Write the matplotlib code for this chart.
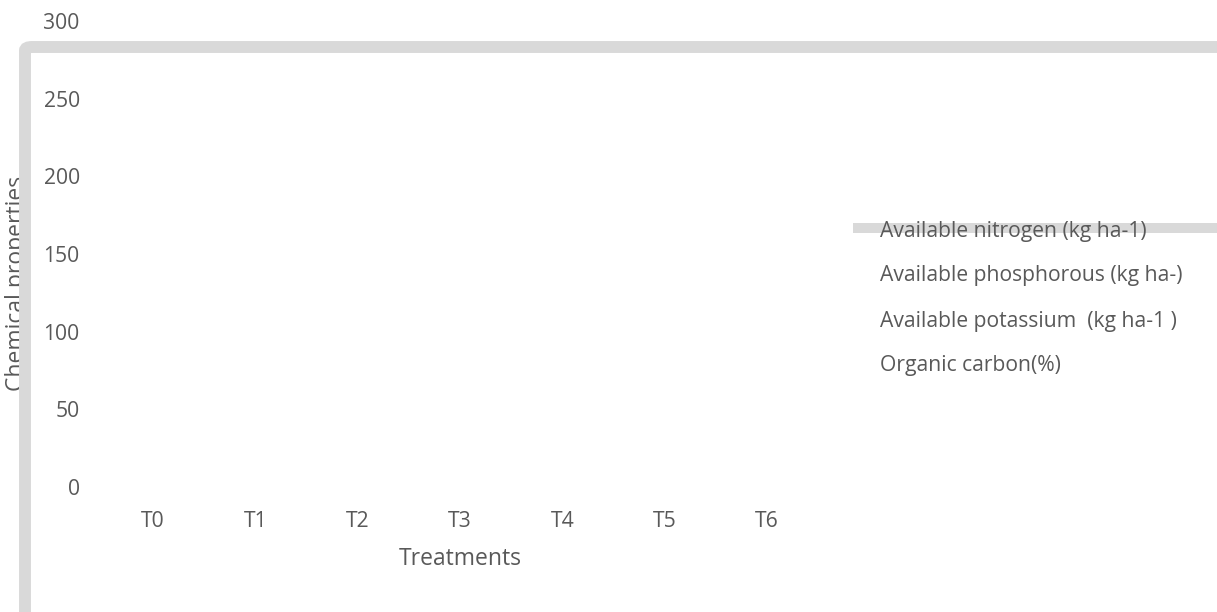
import numpy as np
import matplotlib
matplotlib.use("Agg")
import matplotlib.pyplot as plt
from matplotlib.patches import FancyBboxPatch
from matplotlib.lines import Line2D

# ── Data ──────────────────────────────────────────────────────────
treatments = ["T0", "T1", "T2", "T3", "T4", "T5", "T6"]
series_names = [
    "Available nitrogen (kg ha-1)",
    "Available phosphorous (kg ha-)",
    "Available potassium  (kg ha-1 )",
    "Organic carbon(%)",
]
# no bars are visible in the source chart
nitrogen = [None, None, None, None, None, None, None]
phosphorous = [None, None, None, None, None, None, None]
potassium = [None, None, None, None, None, None, None]
organic_carbon = [None, None, None, None, None, None, None]
y_ticks = [0, 50, 100, 150, 200, 250, 300]

TXT = "#595959"
GRAY = "#D9D9D9"
FONT = "Open Sans"
FS = 15.2
FS_TITLE = 16.5

W, H = 1217, 612
fig = plt.figure(figsize=(W / 100, H / 100), dpi=100)
fig.patch.set_facecolor("white")


def fx(px):
    return px / W


def fy(py):
    return 1 - py / H


# plot area: categories 102..818 px, y 0 at 487 px, 300 at 21 px
ax = fig.add_axes([fx(102), fy(487), fx(818) - fx(102), fy(21) - fy(487)])
ax.set_facecolor("none")
for s in ax.spines.values():
    s.set_visible(False)

x = np.arange(len(treatments))
bw = 0.18
for i, vals in enumerate([nitrogen, phosphorous, potassium, organic_carbon]):
    h = np.array([np.nan if v is None else v for v in vals], dtype=float)
    ax.bar(x + (i - 1.5) * bw, np.nan_to_num(h), bw, color=GRAY)

ax.set_xlim(-0.5, len(treatments) - 0.5)
ax.set_ylim(0, 300)
ax.set_yticks(y_ticks)
ax.set_yticklabels([str(v) for v in y_ticks], fontsize=FS, color=TXT,
                   fontfamily=FONT)
ax.set_xticks(x)
ax.set_xticklabels(treatments, fontsize=FS, color=TXT, fontfamily=FONT)
ax.tick_params(axis="y", length=0, pad=16)
ax.tick_params(axis="x", length=0, pad=17)

# axis titles (y title sits partly under the gray frame)
fig.text(fx(460), fy(559), "Treatments", ha="center", va="center",
         fontsize=FS_TITLE, color=TXT, fontfamily=FONT)
fig.text(fx(29), fy(283), "Chemical properties", ha="right", va="center",
         rotation=90, fontsize=FS_TITLE, color=TXT, fontfamily=FONT, zorder=1)

# thick gray frame (top + left), running off the figure edges
frame = FancyBboxPatch((fx(25), fy(900)), fx(1600) - fx(25), fy(47) - fy(900),
                       boxstyle="round,pad=0,rounding_size=0.006",
                       transform=fig.transFigure, fc="none", ec=GRAY,
                       lw=8.6, zorder=5)
fig.add_artist(frame)

# legend
leg_y = [231, 276, 321, 366]
fig.add_artist(Line2D([fx(853), fx(1230)], [fy(228), fy(228)],
                      transform=fig.transFigure, color=GRAY, lw=7.2,
                      solid_capstyle="butt", zorder=2))
for name, yy in zip(series_names, leg_y):
    fig.text(fx(880), fy(yy), name, ha="left", va="center", fontsize=FS,
             color=TXT, fontfamily=FONT, zorder=3)

fig.savefig("out.png", dpi=100, facecolor="white")
